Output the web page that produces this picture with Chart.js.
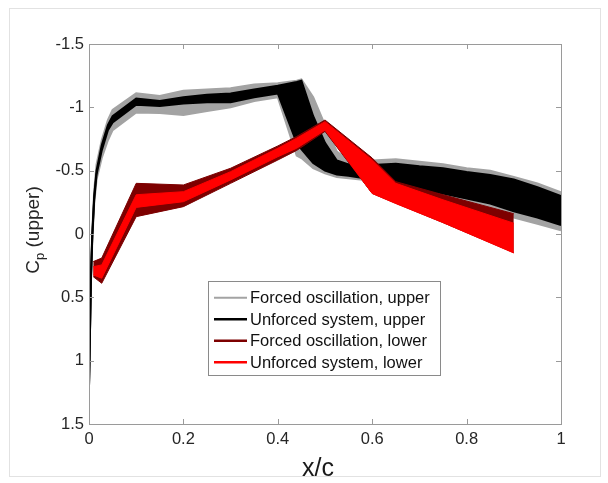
<!DOCTYPE html>
<html lang="en">
<head>
    <meta charset="UTF-8">
    <title>Cp upper / lower</title>
    <script src="https://cdn.jsdelivr.net/npm/chart.js"></script>
    <style>
        html, body { margin: 0; padding: 0; background: #fff; }
        canvas { display: block; }
    </style>
</head>
<body>
    <canvas id="myChart" width="608" height="483"></canvas>
    <script>
        // x/c stations for the upper surface bands
        const xUpper = [0, 0.004, 0.007, 0.011, 0.016, 0.027, 0.04, 0.05, 0.1, 0.15, 0.2, 0.25, 0.3, 0.35, 0.4,
                        0.44, 0.45, 0.475, 0.5, 0.525, 0.55, 0.6, 0.65, 0.7, 0.75, 0.8, 0.85, 0.9, 0.95, 1.0];
        // forced oscillation, upper (grey band): min / max Cp
        const forcedUpperMin = [1.2, 0.34, -0.03, -0.34, -0.55, -0.74, -0.9, -0.98, -1.11, -1.09, -1.13, -1.14, -1.15, -1.18, -1.19,
                                -1.21, -1.22, -1.08, -0.86, -0.65, -0.58, -0.58, -0.59, -0.57, -0.55, -0.52, -0.5, -0.45, -0.4, -0.33];
        const forcedUpperMax = [1.2, 0.39, 0.05, -0.24, -0.43, -0.6, -0.74, -0.82, -0.96, -0.955, -0.94, -0.97, -1.0, -1.05, -1.08,
                                -0.62, -0.6, -0.52, -0.48, -0.45, -0.44, -0.42, -0.39, -0.35, -0.3, -0.26, -0.2, -0.13, -0.08, -0.03];
        // unforced system, upper (black band)
        const unforcedUpperMin = [1.2, 0.36, 0.0, -0.3, -0.5, -0.7, -0.86, -0.93, -1.07, -1.05, -1.08, -1.1, -1.11, -1.14, -1.17,
                                  -1.2, -1.21, -0.93, -0.72, -0.58, -0.55, -0.545, -0.555, -0.535, -0.52, -0.49, -0.465, -0.43, -0.37, -0.3];
        const unforcedUpperMax = [1.2, 0.37, 0.02, -0.27, -0.47, -0.66, -0.82, -0.88, -1.02, -1.01, -1.03, -1.04, -1.04, -1.08, -1.11,
                                  -0.72, -0.67, -0.56, -0.5, -0.47, -0.46, -0.43, -0.4, -0.36, -0.32, -0.28, -0.24, -0.18, -0.13, -0.07];

        // x/c stations for the lower surface bands
        const xLower = [0.009, 0.027, 0.1, 0.2, 0.3, 0.4, 0.44, 0.5, 0.6, 0.65, 0.75, 0.9];
        const forcedLowerMin = [0.218, 0.19, -0.4, -0.387, -0.519, -0.695, -0.77, -0.9, -0.6, -0.413, -0.31, -0.16];
        const forcedLowerMax = [0.337, 0.389, -0.137, -0.216, -0.4, -0.584, -0.66, -0.81, -0.32, -0.243, -0.09, 0.147];
        const unforcedLowerMin = [0.258, 0.244, -0.31, -0.334, -0.492, -0.677, -0.756, -0.887, -0.585, -0.4, -0.27, -0.085];
        const unforcedLowerMax = [0.323, 0.349, -0.21, -0.255, -0.427, -0.61, -0.677, -0.82, -0.32, -0.24, -0.09, 0.15];

        const seriesNames = ['Forced oscillation, upper', 'Unforced system, upper', 'Forced oscillation, lower', 'Unforced system, lower'];
        const seriesColors = ['#a3a3a3', '#000000', '#7d0000', '#ff0000'];

        const xTicks = [0, 0.2, 0.4, 0.6, 0.8, 1];
        const xTickLabels = ['0', '0.2', '0.4', '0.6', '0.8', '1'];
        const yTicks = [-1.5, -1, -0.5, 0, 0.5, 1, 1.5];
        const yTickLabels = ['-1.5', '-1', '-0.5', '0', '0.5', '1', '1.5'];

        const FONT = "'Liberation Sans', Arial, sans-serif";

        function pts(xs, ys) {
            return xs.map((x, i) => ({ x: x, y: ys[i] }));
        }

        // each band = an edge line + a second edge filled back to it
        function band(idx, xs, lo, hi, order, width) {
            const c = seriesColors[idx];
            return [
                { label: seriesNames[idx], data: pts(xs, lo), borderColor: c, backgroundColor: c,
                  borderWidth: width, fill: false, order: order, pointRadius: 0, tension: 0 },
                { label: seriesNames[idx] + ' (edge)', data: pts(xs, hi), borderColor: c, backgroundColor: c,
                  borderWidth: width, fill: '-1', order: order, pointRadius: 0, tension: 0 }
            ];
        }

        const datasets = [
            ...band(0, xUpper, forcedUpperMin, forcedUpperMax, 4, 2),
            ...band(1, xUpper, unforcedUpperMin, unforcedUpperMax, 3, 2),
            ...band(2, xLower, forcedLowerMin, forcedLowerMax, 2, 1),
            ...band(3, xLower, unforcedLowerMin, unforcedLowerMax, 1, 1)
        ];

        const decorPlugin = {
            id: 'decor',
            beforeDraw(chart) {
                const ctx = chart.ctx;
                ctx.save();
                ctx.fillStyle = '#fff';
                ctx.fillRect(0, 0, chart.width, chart.height);
                ctx.strokeStyle = '#e2e2e2';
                ctx.lineWidth = 1;
                ctx.strokeRect(9.5, 8.5, 591, 468);
                ctx.restore();
            },
            afterDatasetsDraw(chart) {
                const ctx = chart.ctx;
                const a = chart.chartArea;
                const xs = chart.scales.x, ys = chart.scales.y;
                ctx.save();
                ctx.strokeStyle = '#9a9a9a';
                ctx.lineWidth = 1;
                ctx.strokeRect(Math.round(a.left) + 0.5, Math.round(a.top) + 0.5,
                               Math.round(a.right - a.left), Math.round(a.bottom - a.top));
                ctx.beginPath();
                xTicks.forEach(v => {
                    const px = Math.round(xs.getPixelForValue(v)) + 0.5;
                    ctx.moveTo(px, a.bottom); ctx.lineTo(px, a.bottom - 5);
                    ctx.moveTo(px, a.top); ctx.lineTo(px, a.top + 5);
                });
                yTicks.forEach(v => {
                    const py = Math.round(ys.getPixelForValue(v)) + 0.5;
                    ctx.moveTo(a.left, py); ctx.lineTo(a.left + 5, py);
                    ctx.moveTo(a.right, py); ctx.lineTo(a.right - 5, py);
                });
                ctx.stroke();
                ctx.restore();
            },
            afterDraw(chart) {
                const ctx = chart.ctx;
                const a = chart.chartArea;
                ctx.save();

                // y title: C_p (upper)
                ctx.fillStyle = '#262626';
                ctx.translate(39, (a.top + a.bottom) / 2 - 4);
                ctx.rotate(-Math.PI / 2);
                ctx.textBaseline = 'alphabetic';
                ctx.font = '19px ' + FONT;
                const wC = ctx.measureText('C').width;
                const wRest = ctx.measureText(' (upper)').width;
                ctx.font = '13px ' + FONT;
                const wp = ctx.measureText('p').width;
                let x0 = -(wC + wp + wRest) / 2;
                ctx.font = '19px ' + FONT;
                ctx.fillText('C', x0, 0);
                ctx.font = '13px ' + FONT;
                ctx.fillText('p', x0 + wC, 5);
                ctx.font = '19px ' + FONT;
                ctx.fillText(' (upper)', x0 + wC + wp, 0);
                ctx.restore();

                // x title
                ctx.save();
                ctx.fillStyle = '#1a1a1a';
                ctx.font = '25px ' + FONT;
                ctx.textAlign = 'center';
                ctx.textBaseline = 'alphabetic';
                ctx.fillText('x/c', 318, 476);
                ctx.restore();

                // legend
                ctx.save();
                ctx.fillStyle = '#fff';
                ctx.fillRect(208.5, 281.5, 232, 94);
                ctx.strokeStyle = '#8a8a8a';
                ctx.lineWidth = 1;
                ctx.strokeRect(208.5, 281.5, 232, 94);
                const rows = [297.7, 319.3, 340.7, 362.3];
                ctx.font = '16.5px ' + FONT;
                ctx.textBaseline = 'middle';
                seriesNames.forEach((name, i) => {
                    const y = rows[i];
                    ctx.strokeStyle = seriesColors[i];
                    ctx.lineWidth = i === 0 ? 2 : 2.5;
                    ctx.beginPath();
                    ctx.moveTo(214, y); ctx.lineTo(247, y);
                    ctx.stroke();
                    ctx.fillStyle = '#111';
                    ctx.fillText(name, 250, y + 1);
                });
                ctx.restore();
            }
        };

        new Chart(document.getElementById('myChart'), {
            type: 'line',
            data: { datasets: datasets },
            options: {
                responsive: false,
                animation: false,
                devicePixelRatio: 1,
                layout: { padding: { top: 44, right: 47, left: 0, bottom: 0 } },
                plugins: {
                    legend: { display: false },
                    tooltip: { enabled: false }
                },
                scales: {
                    x: {
                        type: 'linear', min: 0, max: 1,
                        grid: { display: false, drawTicks: false },
                        border: { display: false },
                        afterBuildTicks: s => { s.ticks = xTicks.map(v => ({ value: v })); },
                        afterFit: s => { s.height = 59; },
                        ticks: {
                            padding: 6, color: '#262626', maxRotation: 0,
                            font: { family: FONT, size: 16.5 },
                            callback: v => xTickLabels[xTicks.indexOf(v)]
                        }
                    },
                    y: {
                        type: 'linear', min: -1.5, max: 1.5, reverse: true,
                        grid: { display: false, drawTicks: false },
                        border: { display: false },
                        afterBuildTicks: s => { s.ticks = yTicks.map(v => ({ value: v })); },
                        afterFit: s => { s.width = 89; },
                        ticks: {
                            padding: 5, color: '#262626',
                            font: { family: FONT, size: 16.5 },
                            callback: v => yTickLabels[yTicks.indexOf(v)]
                        }
                    }
                }
            },
            plugins: [decorPlugin]
        });
    </script>
</body>
</html>
